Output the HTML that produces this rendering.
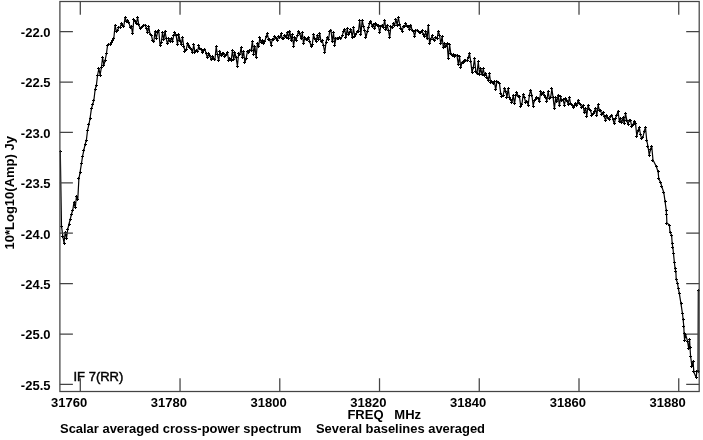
<!DOCTYPE html>
<html><head><meta charset="utf-8"><title>plot</title>
<style>
html,body{margin:0;padding:0;background:#fff}
svg{display:block}
text{font-family:"Liberation Sans",sans-serif;font-weight:bold;font-size:13px;fill:#000}
</style></head><body>
<svg width="703" height="440" viewBox="0 0 703 440">
<rect width="703" height="440" fill="#fff"/>
<path d="M60.3,151.0 L61.5,226.0 L62.8,236.0 L64.0,243.0 L65.3,232.0 L66.5,238.0 L67.8,229.0 L69.0,224.0 L70.3,219.0 L71.5,214.0 L72.8,210.0 L74.0,202.0 L75.3,207.5 L76.5,196.0 L77.8,199.0 L78.9,178.8 L80.1,172.0 L81.4,163.8 L82.6,156.1 L83.9,150.0 L85.1,144.4 L86.4,140.0 L87.6,130.0 L88.9,124.7 L90.1,118.0 L91.4,108.8 L92.6,104.9 L93.9,100.0 L95.1,89.7 L96.4,85.0 L97.6,75.0 L98.9,68.5 L100.1,75.0 L101.4,67.5 L102.6,57.5 L103.9,65.0 L105.1,60.5 L106.4,53.8 L107.6,45.0 L108.9,44.3 L110.1,44.4 L111.3,42.5 L112.6,40.0 L113.8,38.8 L115.1,25.0 L116.3,31.0 L117.6,30.2 L118.8,27.4 L120.1,27.5 L121.3,23.8 L122.6,25.1 L123.8,26.4 L125.1,17.3 L126.3,21.2 L127.6,20.7 L128.8,22.2 L130.1,27.1 L131.3,26.0 L132.6,33.8 L133.8,20.0 L135.1,21.0 L136.3,23.7 L137.6,17.5 L138.8,24.9 L140.1,28.1 L141.3,27.5 L142.5,26.4 L143.8,25.3 L145.0,25.0 L146.3,28.1 L147.5,32.4 L148.8,26.8 L150.0,34.2 L151.3,35.0 L152.5,40.0 L153.8,41.9 L155.0,31.6 L156.3,38.3 L157.5,32.5 L158.8,30.9 L160.0,45.0 L161.3,42.6 L162.5,32.4 L163.8,39.8 L165.0,31.0 L166.3,38.8 L167.5,43.8 L168.8,39.0 L170.0,41.6 L171.3,38.5 L172.5,41.0 L173.7,35.7 L175.0,32.5 L176.2,35.9 L177.5,44.7 L178.7,34.5 L180.0,40.0 L181.2,44.7 L182.5,37.6 L183.7,46.0 L185.0,51.0 L186.2,49.7 L187.5,43.7 L188.7,45.0 L190.0,47.4 L191.2,49.3 L192.5,52.6 L193.7,44.7 L195.0,52.5 L196.2,50.7 L197.5,51.7 L198.7,46.0 L200.0,48.8 L201.2,49.7 L202.5,52.6 L203.7,50.5 L204.9,49.2 L206.2,53.8 L207.4,57.6 L208.7,53.3 L209.9,55.4 L211.2,60.0 L212.4,57.0 L213.7,58.8 L214.9,60.0 L216.2,46.6 L217.4,54.6 L218.7,60.7 L219.9,51.0 L221.2,55.8 L222.4,54.0 L223.7,53.2 L224.9,56.7 L226.2,54.4 L227.4,52.5 L228.7,60.5 L229.9,58.8 L231.2,60.0 L232.4,50.9 L233.7,59.9 L234.9,52.5 L236.1,57.9 L237.4,66.0 L238.6,54.0 L239.9,54.6 L241.1,47.5 L242.4,57.2 L243.6,51.6 L244.9,62.5 L246.1,58.3 L247.4,51.9 L248.6,52.5 L249.9,50.1 L251.1,50.8 L252.4,41.0 L253.6,54.0 L254.9,46.6 L256.1,57.5 L257.4,43.2 L258.6,46.6 L259.9,37.5 L261.1,42.3 L262.4,40.2 L263.6,43.8 L264.9,41.3 L266.1,36.5 L267.3,33.8 L268.6,39.3 L269.8,39.6 L271.1,45.0 L272.3,39.7 L273.6,39.7 L274.8,36.2 L276.1,38.8 L277.3,40.3 L278.6,36.6 L279.8,37.9 L281.1,33.8 L282.3,38.9 L283.6,38.2 L284.8,35.1 L286.1,37.5 L287.3,32.6 L288.6,38.2 L289.8,31.2 L291.1,40.0 L292.3,34.7 L293.6,46.0 L294.8,37.3 L296.1,40.2 L297.3,35.8 L298.5,31.0 L299.8,33.1 L301.0,38.8 L302.3,32.9 L303.5,43.5 L304.8,37.5 L306.0,39.8 L307.3,39.3 L308.5,37.5 L309.8,41.6 L311.0,46.0 L312.3,44.3 L313.5,34.8 L314.8,38.8 L316.0,41.1 L317.3,35.9 L318.5,39.7 L319.8,33.8 L321.0,41.7 L322.3,40.7 L323.5,46.0 L324.8,52.5 L326.0,42.2 L327.3,37.5 L328.5,39.5 L329.7,31.3 L331.0,30.0 L332.2,41.6 L333.5,32.9 L334.7,45.0 L336.0,38.1 L337.2,38.6 L338.5,38.8 L339.7,37.5 L341.0,38.8 L342.2,35.9 L343.5,31.1 L344.7,29.2 L346.0,37.3 L347.2,28.8 L348.5,34.4 L349.7,32.1 L351.0,29.7 L352.2,37.5 L353.5,28.0 L354.7,36.0 L356.0,34.5 L357.2,31.5 L358.5,31.0 L359.7,20.9 L360.9,34.8 L362.2,20.0 L363.4,26.2 L364.7,30.6 L365.9,37.5 L367.2,32.0 L368.4,27.3 L369.7,23.5 L370.9,21.0 L372.2,26.6 L373.4,24.2 L374.7,28.9 L375.9,23.5 L377.2,25.0 L378.4,25.8 L379.7,32.5 L380.9,26.0 L382.2,25.1 L383.4,27.1 L384.7,20.0 L385.9,30.0 L387.2,25.2 L388.4,30.3 L389.7,37.5 L390.9,26.4 L392.1,27.9 L393.4,23.8 L394.6,25.5 L395.9,19.0 L397.1,25.0 L398.4,17.5 L399.6,24.0 L400.9,28.2 L402.1,31.0 L403.4,26.5 L404.6,26.7 L405.9,23.8 L407.1,26.6 L408.4,27.0 L409.6,29.3 L410.9,25.0 L412.1,30.6 L413.4,31.3 L414.6,36.0 L415.9,30.5 L417.1,30.1 L418.4,31.6 L419.6,32.5 L420.9,32.2 L422.1,30.6 L423.3,34.7 L424.6,36.0 L425.8,31.5 L427.1,38.9 L428.3,25.0 L429.6,43.8 L430.8,39.2 L432.1,35.8 L433.3,39.4 L434.6,40.0 L435.8,37.5 L437.1,38.7 L438.3,31.0 L439.6,35.5 L440.8,43.8 L442.1,36.7 L443.3,47.3 L444.6,43.9 L445.8,46.0 L447.1,43.7 L448.3,58.5 L449.6,44.5 L450.8,53.8 L452.1,55.5 L453.3,54.2 L454.5,56.1 L455.8,55.0 L457.0,55.5 L458.3,64.6 L459.5,56.5 L460.8,67.5 L462.0,62.1 L463.3,62.6 L464.5,60.0 L465.8,60.5 L467.0,60.8 L468.3,57.2 L469.5,53.8 L470.8,61.6 L472.0,72.5 L473.3,67.3 L474.5,58.8 L475.8,71.1 L477.0,73.8 L478.3,61.7 L479.5,74.3 L480.8,68.3 L482.0,75.0 L483.3,68.8 L484.5,75.2 L485.7,73.3 L487.0,77.0 L488.2,80.0 L489.5,74.0 L490.7,83.0 L492.0,81.9 L493.2,83.8 L494.5,81.9 L495.7,89.8 L497.0,81.1 L498.2,82.5 L499.5,83.9 L500.7,93.2 L502.0,96.0 L503.2,95.4 L504.5,88.3 L505.7,91.0 L507.0,97.1 L508.2,88.4 L509.5,98.0 L510.7,99.4 L512.0,102.5 L513.2,95.2 L514.5,103.6 L515.7,95.8 L516.9,92.5 L518.2,96.7 L519.4,96.1 L520.7,106.0 L521.9,104.3 L523.2,94.3 L524.4,97.5 L525.7,102.7 L526.9,101.2 L528.2,105.0 L529.4,95.0 L530.7,90.0 L531.9,95.3 L533.2,106.0 L534.4,100.2 L535.7,99.4 L536.9,97.8 L538.2,98.8 L539.4,101.6 L540.7,91.5 L541.9,94.5 L543.2,92.5 L544.4,96.0 L545.7,97.2 L546.9,101.0 L548.1,91.2 L549.4,98.7 L550.6,97.8 L551.9,88.8 L553.1,97.7 L554.4,108.8 L555.6,97.9 L556.9,101.8 L558.1,95.0 L559.4,105.9 L560.6,96.9 L561.9,100.7 L563.1,99.8 L564.4,105.0 L565.6,98.7 L566.9,100.1 L568.1,104.0 L569.4,97.5 L570.6,103.8 L571.9,104.3 L573.1,107.5 L574.4,105.0 L575.6,103.6 L576.9,105.5 L578.1,100.0 L579.3,104.0 L580.6,104.6 L581.8,107.5 L583.1,105.1 L584.3,112.6 L585.6,108.1 L586.8,116.0 L588.1,105.0 L589.3,109.7 L590.6,110.3 L591.8,115.3 L593.1,113.8 L594.3,111.4 L595.6,108.3 L596.8,115.9 L598.1,105.0 L599.3,110.0 L600.6,110.1 L601.8,115.0 L603.1,112.0 L604.3,116.7 L605.6,120.0 L606.8,115.3 L608.1,118.8 L609.3,119.4 L610.5,116.3 L611.8,115.0 L613.0,119.6 L614.3,123.8 L615.5,118.1 L616.8,115.1 L618.0,111.0 L619.3,121.0 L620.5,118.9 L621.8,122.5 L623.0,117.8 L624.3,123.9 L625.5,113.3 L626.8,120.0 L628.0,124.5 L629.3,120.2 L630.5,120.4 L631.8,126.8 L633.0,124.8 L634.3,121.0 L635.5,123.2 L636.8,136.0 L638.0,130.5 L639.3,127.5 L640.5,134.7 L641.7,138.8 L643.0,137.2 L644.2,131.3 L645.5,127.5 L646.7,140.0 L648.0,146.6 L649.2,155.0 L650.5,149.6 L651.7,146.0 L653.0,160.0 L656.2,166.2 L658.1,171.9 L658.8,178.8 L660.6,182.5 L661.9,186.9 L663.8,192.5 L665.0,201.2 L666.2,210.0 L666.5,214.4 L666.9,223.1 L669.4,225.0 L670.0,232.5 L671.6,235.0 L672.2,243.8 L672.9,247.5 L673.5,253.8 L674.4,262.5 L675.0,268.0 L675.9,271.9 L676.2,279.4 L677.5,283.0 L678.4,288.8 L679.4,293.8 L681.0,303.8 L682.5,313.8 L683.1,319.4 L683.8,326.2 L684.1,333.8 L684.6,340.0 L685.6,334.4 L687.5,341.2 L688.8,348.8 L689.6,339.4 L690.0,347.5 L690.6,356.2 L691.9,366.2 L693.1,361.2 L693.8,371.9 L696.2,377.5 L696.9,371.2 L698.0,371.2 L698.3,290.0" fill="none" stroke="#000" stroke-width="1.2" stroke-linejoin="round"/>
<path d="M59.0,151.5h3M60.5,150.0v3M60.0,226.5h3M61.5,225.0v3M61.0,236.5h3M62.5,235.0v3M63.0,243.5h3M64.5,242.0v3M64.0,232.5h3M65.5,231.0v3M65.0,238.5h3M66.5,237.0v3M66.0,229.5h3M67.5,228.0v3M68.0,224.5h3M69.5,223.0v3M69.0,219.5h3M70.5,218.0v3M70.0,214.5h3M71.5,213.0v3M71.0,210.5h3M72.5,209.0v3M73.0,202.5h3M74.5,201.0v3M74.0,207.5h3M75.5,206.0v3M75.0,196.5h3M76.5,195.0v3M76.0,199.5h3M77.5,198.0v3M77.0,178.5h3M78.5,177.0v3M79.0,172.5h3M80.5,171.0v3M80.0,163.5h3M81.5,162.0v3M81.0,156.5h3M82.5,155.0v3M82.0,150.5h3M83.5,149.0v3M84.0,144.5h3M85.5,143.0v3M85.0,140.5h3M86.5,139.0v3M86.0,130.5h3M87.5,129.0v3M87.0,124.5h3M88.5,123.0v3M89.0,118.5h3M90.5,117.0v3M90.0,108.5h3M91.5,107.0v3M91.0,104.5h3M92.5,103.0v3M92.0,100.5h3M93.5,99.0v3M94.0,89.5h3M95.5,88.0v3M95.0,85.5h3M96.5,84.0v3M96.0,75.5h3M97.5,74.0v3M97.0,68.5h3M98.5,67.0v3M99.0,75.5h3M100.5,74.0v3M100.0,67.5h3M101.5,66.0v3M101.0,57.5h3M102.5,56.0v3M102.0,65.5h3M103.5,64.0v3M104.0,60.5h3M105.5,59.0v3M105.0,53.5h3M106.5,52.0v3M106.0,45.5h3M107.5,44.0v3M107.0,44.5h3M108.5,43.0v3M109.0,44.5h3M110.5,43.0v3M110.0,42.5h3M111.5,41.0v3M111.0,40.5h3M112.5,39.0v3M112.0,38.5h3M113.5,37.0v3M114.0,25.5h3M115.5,24.0v3M115.0,31.5h3M116.5,30.0v3M116.0,30.5h3M117.5,29.0v3M117.0,27.5h3M118.5,26.0v3M119.0,27.5h3M120.5,26.0v3M120.0,23.5h3M121.5,22.0v3M121.0,25.5h3M122.5,24.0v3M122.0,26.5h3M123.5,25.0v3M124.0,17.5h3M125.5,16.0v3M125.0,21.5h3M126.5,20.0v3M126.0,20.5h3M127.5,19.0v3M127.0,22.5h3M128.5,21.0v3M129.0,27.5h3M130.5,26.0v3M130.0,26.5h3M131.5,25.0v3M131.0,33.5h3M132.5,32.0v3M132.0,19.5h3M133.5,18.0v3M134.0,21.5h3M135.5,20.0v3M135.0,23.5h3M136.5,22.0v3M136.0,17.5h3M137.5,16.0v3M137.0,24.5h3M138.5,23.0v3M139.0,28.5h3M140.5,27.0v3M140.0,27.5h3M141.5,26.0v3M141.0,26.5h3M142.5,25.0v3M142.0,25.5h3M143.5,24.0v3M144.0,25.5h3M145.5,24.0v3M145.0,28.5h3M146.5,27.0v3M146.0,32.5h3M147.5,31.0v3M147.0,26.5h3M148.5,25.0v3M149.0,34.5h3M150.5,33.0v3M150.0,35.5h3M151.5,34.0v3M151.0,40.5h3M152.5,39.0v3M152.0,41.5h3M153.5,40.0v3M154.0,31.5h3M155.5,30.0v3M155.0,38.5h3M156.5,37.0v3M156.0,32.5h3M157.5,31.0v3M157.0,30.5h3M158.5,29.0v3M159.0,45.5h3M160.5,44.0v3M160.0,42.5h3M161.5,41.0v3M161.0,32.5h3M162.5,31.0v3M162.0,39.5h3M163.5,38.0v3M164.0,31.5h3M165.5,30.0v3M165.0,38.5h3M166.5,37.0v3M166.0,43.5h3M167.5,42.0v3M167.0,38.5h3M168.5,37.0v3M169.0,41.5h3M170.5,40.0v3M170.0,38.5h3M171.5,37.0v3M171.0,41.5h3M172.5,40.0v3M172.0,35.5h3M173.5,34.0v3M173.0,32.5h3M174.5,31.0v3M175.0,35.5h3M176.5,34.0v3M176.0,44.5h3M177.5,43.0v3M177.0,34.5h3M178.5,33.0v3M178.0,40.5h3M179.5,39.0v3M180.0,44.5h3M181.5,43.0v3M181.0,37.5h3M182.5,36.0v3M182.0,46.5h3M183.5,45.0v3M183.0,51.5h3M184.5,50.0v3M185.0,49.5h3M186.5,48.0v3M186.0,43.5h3M187.5,42.0v3M187.0,45.5h3M188.5,44.0v3M188.0,47.5h3M189.5,46.0v3M190.0,49.5h3M191.5,48.0v3M191.0,52.5h3M192.5,51.0v3M192.0,44.5h3M193.5,43.0v3M193.0,52.5h3M194.5,51.0v3M195.0,50.5h3M196.5,49.0v3M196.0,51.5h3M197.5,50.0v3M197.0,45.5h3M198.5,44.0v3M198.0,48.5h3M199.5,47.0v3M200.0,49.5h3M201.5,48.0v3M201.0,52.5h3M202.5,51.0v3M202.0,50.5h3M203.5,49.0v3M203.0,49.5h3M204.5,48.0v3M205.0,53.5h3M206.5,52.0v3M206.0,57.5h3M207.5,56.0v3M207.0,53.5h3M208.5,52.0v3M208.0,55.5h3M209.5,54.0v3M210.0,59.5h3M211.5,58.0v3M211.0,56.5h3M212.5,55.0v3M212.0,58.5h3M213.5,57.0v3M213.0,59.5h3M214.5,58.0v3M215.0,46.5h3M216.5,45.0v3M216.0,54.5h3M217.5,53.0v3M217.0,60.5h3M218.5,59.0v3M218.0,51.5h3M219.5,50.0v3M220.0,55.5h3M221.5,54.0v3M221.0,53.5h3M222.5,52.0v3M222.0,53.5h3M223.5,52.0v3M223.0,56.5h3M224.5,55.0v3M225.0,54.5h3M226.5,53.0v3M226.0,52.5h3M227.5,51.0v3M227.0,60.5h3M228.5,59.0v3M228.0,58.5h3M229.5,57.0v3M230.0,60.5h3M231.5,59.0v3M231.0,50.5h3M232.5,49.0v3M232.0,59.5h3M233.5,58.0v3M233.0,52.5h3M234.5,51.0v3M235.0,57.5h3M236.5,56.0v3M236.0,66.5h3M237.5,65.0v3M237.0,53.5h3M238.5,52.0v3M238.0,54.5h3M239.5,53.0v3M240.0,47.5h3M241.5,46.0v3M241.0,57.5h3M242.5,56.0v3M242.0,51.5h3M243.5,50.0v3M243.0,62.5h3M244.5,61.0v3M245.0,58.5h3M246.5,57.0v3M246.0,51.5h3M247.5,50.0v3M247.0,52.5h3M248.5,51.0v3M248.0,50.5h3M249.5,49.0v3M250.0,50.5h3M251.5,49.0v3M251.0,41.5h3M252.5,40.0v3M252.0,54.5h3M253.5,53.0v3M253.0,46.5h3M254.5,45.0v3M255.0,57.5h3M256.5,56.0v3M256.0,43.5h3M257.5,42.0v3M257.0,46.5h3M258.5,45.0v3M258.0,37.5h3M259.5,36.0v3M260.0,42.5h3M261.5,41.0v3M261.0,40.5h3M262.5,39.0v3M262.0,43.5h3M263.5,42.0v3M263.0,41.5h3M264.5,40.0v3M265.0,36.5h3M266.5,35.0v3M266.0,33.5h3M267.5,32.0v3M267.0,39.5h3M268.5,38.0v3M268.0,39.5h3M269.5,38.0v3M270.0,45.5h3M271.5,44.0v3M271.0,39.5h3M272.5,38.0v3M272.0,39.5h3M273.5,38.0v3M273.0,36.5h3M274.5,35.0v3M275.0,38.5h3M276.5,37.0v3M276.0,40.5h3M277.5,39.0v3M277.0,36.5h3M278.5,35.0v3M278.0,37.5h3M279.5,36.0v3M280.0,33.5h3M281.5,32.0v3M281.0,38.5h3M282.5,37.0v3M282.0,38.5h3M283.5,37.0v3M283.0,35.5h3M284.5,34.0v3M285.0,37.5h3M286.5,36.0v3M286.0,32.5h3M287.5,31.0v3M287.0,38.5h3M288.5,37.0v3M288.0,31.5h3M289.5,30.0v3M290.0,40.5h3M291.5,39.0v3M291.0,34.5h3M292.5,33.0v3M292.0,46.5h3M293.5,45.0v3M293.0,37.5h3M294.5,36.0v3M295.0,40.5h3M296.5,39.0v3M296.0,35.5h3M297.5,34.0v3M297.0,31.5h3M298.5,30.0v3M298.0,33.5h3M299.5,32.0v3M300.0,38.5h3M301.5,37.0v3M301.0,32.5h3M302.5,31.0v3M302.0,43.5h3M303.5,42.0v3M303.0,37.5h3M304.5,36.0v3M305.0,39.5h3M306.5,38.0v3M306.0,39.5h3M307.5,38.0v3M307.0,37.5h3M308.5,36.0v3M308.0,41.5h3M309.5,40.0v3M310.0,46.5h3M311.5,45.0v3M311.0,44.5h3M312.5,43.0v3M312.0,34.5h3M313.5,33.0v3M313.0,38.5h3M314.5,37.0v3M315.0,41.5h3M316.5,40.0v3M316.0,35.5h3M317.5,34.0v3M317.0,39.5h3M318.5,38.0v3M318.0,33.5h3M319.5,32.0v3M320.0,41.5h3M321.5,40.0v3M321.0,40.5h3M322.5,39.0v3M322.0,45.5h3M323.5,44.0v3M323.0,52.5h3M324.5,51.0v3M325.0,42.5h3M326.5,41.0v3M326.0,37.5h3M327.5,36.0v3M327.0,39.5h3M328.5,38.0v3M328.0,31.5h3M329.5,30.0v3M329.0,30.5h3M330.5,29.0v3M331.0,41.5h3M332.5,40.0v3M332.0,32.5h3M333.5,31.0v3M333.0,45.5h3M334.5,44.0v3M334.0,38.5h3M335.5,37.0v3M336.0,38.5h3M337.5,37.0v3M337.0,38.5h3M338.5,37.0v3M338.0,37.5h3M339.5,36.0v3M339.0,38.5h3M340.5,37.0v3M341.0,35.5h3M342.5,34.0v3M342.0,31.5h3M343.5,30.0v3M343.0,29.5h3M344.5,28.0v3M344.0,37.5h3M345.5,36.0v3M346.0,28.5h3M347.5,27.0v3M347.0,34.5h3M348.5,33.0v3M348.0,32.5h3M349.5,31.0v3M349.0,29.5h3M350.5,28.0v3M351.0,37.5h3M352.5,36.0v3M352.0,27.5h3M353.5,26.0v3M353.0,36.5h3M354.5,35.0v3M354.0,34.5h3M355.5,33.0v3M356.0,31.5h3M357.5,30.0v3M357.0,31.5h3M358.5,30.0v3M358.0,20.5h3M359.5,19.0v3M359.0,34.5h3M360.5,33.0v3M361.0,20.5h3M362.5,19.0v3M362.0,26.5h3M363.5,25.0v3M363.0,30.5h3M364.5,29.0v3M364.0,37.5h3M365.5,36.0v3M366.0,31.5h3M367.5,30.0v3M367.0,27.5h3M368.5,26.0v3M368.0,23.5h3M369.5,22.0v3M369.0,21.5h3M370.5,20.0v3M371.0,26.5h3M372.5,25.0v3M372.0,24.5h3M373.5,23.0v3M373.0,28.5h3M374.5,27.0v3M374.0,23.5h3M375.5,22.0v3M376.0,25.5h3M377.5,24.0v3M377.0,25.5h3M378.5,24.0v3M378.0,32.5h3M379.5,31.0v3M379.0,26.5h3M380.5,25.0v3M381.0,25.5h3M382.5,24.0v3M382.0,27.5h3M383.5,26.0v3M383.0,20.5h3M384.5,19.0v3M384.0,29.5h3M385.5,28.0v3M386.0,25.5h3M387.5,24.0v3M387.0,30.5h3M388.5,29.0v3M388.0,37.5h3M389.5,36.0v3M389.0,26.5h3M390.5,25.0v3M391.0,27.5h3M392.5,26.0v3M392.0,23.5h3M393.5,22.0v3M393.0,25.5h3M394.5,24.0v3M394.0,19.5h3M395.5,18.0v3M396.0,25.5h3M397.5,24.0v3M397.0,17.5h3M398.5,16.0v3M398.0,24.5h3M399.5,23.0v3M399.0,28.5h3M400.5,27.0v3M401.0,31.5h3M402.5,30.0v3M402.0,26.5h3M403.5,25.0v3M403.0,26.5h3M404.5,25.0v3M404.0,23.5h3M405.5,22.0v3M406.0,26.5h3M407.5,25.0v3M407.0,26.5h3M408.5,25.0v3M408.0,29.5h3M409.5,28.0v3M409.0,25.5h3M410.5,24.0v3M411.0,30.5h3M412.5,29.0v3M412.0,31.5h3M413.5,30.0v3M413.0,36.5h3M414.5,35.0v3M414.0,30.5h3M415.5,29.0v3M416.0,30.5h3M417.5,29.0v3M417.0,31.5h3M418.5,30.0v3M418.0,32.5h3M419.5,31.0v3M419.0,32.5h3M420.5,31.0v3M421.0,30.5h3M422.5,29.0v3M422.0,34.5h3M423.5,33.0v3M423.0,36.5h3M424.5,35.0v3M424.0,31.5h3M425.5,30.0v3M426.0,38.5h3M427.5,37.0v3M427.0,25.5h3M428.5,24.0v3M428.0,43.5h3M429.5,42.0v3M429.0,39.5h3M430.5,38.0v3M431.0,35.5h3M432.5,34.0v3M432.0,39.5h3M433.5,38.0v3M433.0,40.5h3M434.5,39.0v3M434.0,37.5h3M435.5,36.0v3M436.0,38.5h3M437.5,37.0v3M437.0,31.5h3M438.5,30.0v3M438.0,35.5h3M439.5,34.0v3M439.0,43.5h3M440.5,42.0v3M441.0,36.5h3M442.5,35.0v3M442.0,47.5h3M443.5,46.0v3M443.0,43.5h3M444.5,42.0v3M444.0,46.5h3M445.5,45.0v3M446.0,43.5h3M447.5,42.0v3M447.0,58.5h3M448.5,57.0v3M448.0,44.5h3M449.5,43.0v3M449.0,53.5h3M450.5,52.0v3M451.0,55.5h3M452.5,54.0v3M452.0,54.5h3M453.5,53.0v3M453.0,56.5h3M454.5,55.0v3M454.0,55.5h3M455.5,54.0v3M456.0,55.5h3M457.5,54.0v3M457.0,64.5h3M458.5,63.0v3M458.0,56.5h3M459.5,55.0v3M459.0,67.5h3M460.5,66.0v3M461.0,62.5h3M462.5,61.0v3M462.0,62.5h3M463.5,61.0v3M463.0,60.5h3M464.5,59.0v3M464.0,60.5h3M465.5,59.0v3M466.0,60.5h3M467.5,59.0v3M467.0,57.5h3M468.5,56.0v3M468.0,53.5h3M469.5,52.0v3M469.0,61.5h3M470.5,60.0v3M471.0,72.5h3M472.5,71.0v3M472.0,67.5h3M473.5,66.0v3M473.0,58.5h3M474.5,57.0v3M474.0,71.5h3M475.5,70.0v3M476.0,73.5h3M477.5,72.0v3M477.0,61.5h3M478.5,60.0v3M478.0,74.5h3M479.5,73.0v3M479.0,68.5h3M480.5,67.0v3M481.0,74.5h3M482.5,73.0v3M482.0,68.5h3M483.5,67.0v3M483.0,75.5h3M484.5,74.0v3M484.0,73.5h3M485.5,72.0v3M485.0,77.5h3M486.5,76.0v3M487.0,80.5h3M488.5,79.0v3M488.0,73.5h3M489.5,72.0v3M489.0,82.5h3M490.5,81.0v3M490.0,81.5h3M491.5,80.0v3M492.0,83.5h3M493.5,82.0v3M493.0,81.5h3M494.5,80.0v3M494.0,89.5h3M495.5,88.0v3M495.0,81.5h3M496.5,80.0v3M497.0,82.5h3M498.5,81.0v3M498.0,83.5h3M499.5,82.0v3M499.0,93.5h3M500.5,92.0v3M500.0,96.5h3M501.5,95.0v3M502.0,95.5h3M503.5,94.0v3M503.0,88.5h3M504.5,87.0v3M504.0,91.5h3M505.5,90.0v3M505.0,97.5h3M506.5,96.0v3M507.0,88.5h3M508.5,87.0v3M508.0,97.5h3M509.5,96.0v3M509.0,99.5h3M510.5,98.0v3M510.0,102.5h3M511.5,101.0v3M512.0,95.5h3M513.5,94.0v3M513.0,103.5h3M514.5,102.0v3M514.0,95.5h3M515.5,94.0v3M515.0,92.5h3M516.5,91.0v3M517.0,96.5h3M518.5,95.0v3M518.0,96.5h3M519.5,95.0v3M519.0,106.5h3M520.5,105.0v3M520.0,104.5h3M521.5,103.0v3M522.0,94.5h3M523.5,93.0v3M523.0,97.5h3M524.5,96.0v3M524.0,102.5h3M525.5,101.0v3M525.0,101.5h3M526.5,100.0v3M527.0,105.5h3M528.5,104.0v3M528.0,95.5h3M529.5,94.0v3M529.0,90.5h3M530.5,89.0v3M530.0,95.5h3M531.5,94.0v3M532.0,106.5h3M533.5,105.0v3M533.0,100.5h3M534.5,99.0v3M534.0,99.5h3M535.5,98.0v3M535.0,97.5h3M536.5,96.0v3M537.0,98.5h3M538.5,97.0v3M538.0,101.5h3M539.5,100.0v3M539.0,91.5h3M540.5,90.0v3M540.0,94.5h3M541.5,93.0v3M542.0,92.5h3M543.5,91.0v3M543.0,95.5h3M544.5,94.0v3M544.0,97.5h3M545.5,96.0v3M545.0,101.5h3M546.5,100.0v3M547.0,91.5h3M548.5,90.0v3M548.0,98.5h3M549.5,97.0v3M549.0,97.5h3M550.5,96.0v3M550.0,88.5h3M551.5,87.0v3M552.0,97.5h3M553.5,96.0v3M553.0,108.5h3M554.5,107.0v3M554.0,97.5h3M555.5,96.0v3M555.0,101.5h3M556.5,100.0v3M557.0,95.5h3M558.5,94.0v3M558.0,105.5h3M559.5,104.0v3M559.0,96.5h3M560.5,95.0v3M560.0,100.5h3M561.5,99.0v3M562.0,99.5h3M563.5,98.0v3M563.0,105.5h3M564.5,104.0v3M564.0,98.5h3M565.5,97.0v3M565.0,100.5h3M566.5,99.0v3M567.0,104.5h3M568.5,103.0v3M568.0,97.5h3M569.5,96.0v3M569.0,103.5h3M570.5,102.0v3M570.0,104.5h3M571.5,103.0v3M572.0,107.5h3M573.5,106.0v3M573.0,105.5h3M574.5,104.0v3M574.0,103.5h3M575.5,102.0v3M575.0,105.5h3M576.5,104.0v3M577.0,100.5h3M578.5,99.0v3M578.0,103.5h3M579.5,102.0v3M579.0,104.5h3M580.5,103.0v3M580.0,107.5h3M581.5,106.0v3M582.0,105.5h3M583.5,104.0v3M583.0,112.5h3M584.5,111.0v3M584.0,108.5h3M585.5,107.0v3M585.0,116.5h3M586.5,115.0v3M587.0,105.5h3M588.5,104.0v3M588.0,109.5h3M589.5,108.0v3M589.0,110.5h3M590.5,109.0v3M590.0,115.5h3M591.5,114.0v3M592.0,113.5h3M593.5,112.0v3M593.0,111.5h3M594.5,110.0v3M594.0,108.5h3M595.5,107.0v3M595.0,115.5h3M596.5,114.0v3M597.0,104.5h3M598.5,103.0v3M598.0,110.5h3M599.5,109.0v3M599.0,110.5h3M600.5,109.0v3M600.0,114.5h3M601.5,113.0v3M602.0,112.5h3M603.5,111.0v3M603.0,116.5h3M604.5,115.0v3M604.0,120.5h3M605.5,119.0v3M605.0,115.5h3M606.5,114.0v3M607.0,118.5h3M608.5,117.0v3M608.0,119.5h3M609.5,118.0v3M609.0,116.5h3M610.5,115.0v3M610.0,115.5h3M611.5,114.0v3M612.0,119.5h3M613.5,118.0v3M613.0,123.5h3M614.5,122.0v3M614.0,118.5h3M615.5,117.0v3M615.0,115.5h3M616.5,114.0v3M617.0,111.5h3M618.5,110.0v3M618.0,121.5h3M619.5,120.0v3M619.0,118.5h3M620.5,117.0v3M620.0,122.5h3M621.5,121.0v3M622.0,117.5h3M623.5,116.0v3M623.0,123.5h3M624.5,122.0v3M624.0,113.5h3M625.5,112.0v3M625.0,120.5h3M626.5,119.0v3M627.0,124.5h3M628.5,123.0v3M628.0,120.5h3M629.5,119.0v3M629.0,120.5h3M630.5,119.0v3M630.0,126.5h3M631.5,125.0v3M632.0,124.5h3M633.5,123.0v3M633.0,121.5h3M634.5,120.0v3M634.0,123.5h3M635.5,122.0v3M635.0,136.5h3M636.5,135.0v3M637.0,130.5h3M638.5,129.0v3M638.0,127.5h3M639.5,126.0v3M639.0,134.5h3M640.5,133.0v3M640.0,138.5h3M641.5,137.0v3M641.0,137.5h3M642.5,136.0v3M643.0,131.5h3M644.5,130.0v3M644.0,127.5h3M645.5,126.0v3M645.0,140.5h3M646.5,139.0v3M646.0,146.5h3M647.5,145.0v3M648.0,155.5h3M649.5,154.0v3M649.0,149.5h3M650.5,148.0v3M650.0,146.5h3M651.5,145.0v3M651.0,160.5h3M652.5,159.0v3M655.0,166.5h3M656.5,165.0v3M657.0,171.5h3M658.5,170.0v3M657.0,178.5h3M658.5,177.0v3M659.0,182.5h3M660.5,181.0v3M660.0,186.5h3M661.5,185.0v3M662.0,192.5h3M663.5,191.0v3M664.0,201.5h3M665.5,200.0v3M665.0,210.5h3M666.5,209.0v3M665.0,214.5h3M666.5,213.0v3M665.0,223.5h3M666.5,222.0v3M668.0,225.5h3M669.5,224.0v3M669.0,232.5h3M670.5,231.0v3M670.0,235.5h3M671.5,234.0v3M671.0,243.5h3M672.5,242.0v3M671.0,247.5h3M672.5,246.0v3M672.0,253.5h3M673.5,252.0v3M673.0,262.5h3M674.5,261.0v3M674.0,268.5h3M675.5,267.0v3M674.0,271.5h3M675.5,270.0v3M675.0,279.5h3M676.5,278.0v3M676.0,283.5h3M677.5,282.0v3M677.0,288.5h3M678.5,287.0v3M678.0,293.5h3M679.5,292.0v3M680.0,303.5h3M681.5,302.0v3M681.0,313.5h3M682.5,312.0v3M682.0,319.5h3M683.5,318.0v3M682.0,326.5h3M683.5,325.0v3M683.0,333.5h3M684.5,332.0v3M683.0,340.5h3M684.5,339.0v3M684.0,334.5h3M685.5,333.0v3M686.0,341.5h3M687.5,340.0v3M687.0,348.5h3M688.5,347.0v3M688.0,339.5h3M689.5,338.0v3M689.0,347.5h3M690.5,346.0v3M689.0,356.5h3M690.5,355.0v3M690.0,366.5h3M691.5,365.0v3M692.0,361.5h3M693.5,360.0v3M692.0,371.5h3M693.5,370.0v3M695.0,377.5h3M696.5,376.0v3M695.0,371.5h3M696.5,370.0v3M697.0,371.5h3M698.5,370.0v3M697.0,290.5h3M698.5,289.0v3" fill="none" stroke="#000" stroke-width="1"/>
<rect x="59.9" y="1.5" width="639.3000000000001" height="390.0" fill="none" stroke="#444" stroke-width="1.25"/>
<path d="M59.9,31.6h13M699.2,31.6h-13M59.9,82.0h13M699.2,82.0h-13M59.9,132.4h13M699.2,132.4h-13M59.9,182.8h13M699.2,182.8h-13M59.9,233.2h13M699.2,233.2h-13M59.9,283.6h13M699.2,283.6h-13M59.9,334.0h13M699.2,334.0h-13M59.9,384.4h13M699.2,384.4h-13M80.30,1.5v13.3M80.30,391.5v-13.3M180.04,1.5v13.3M180.04,391.5v-13.3M279.78,1.5v13.3M279.78,391.5v-13.3M379.52,1.5v13.3M379.52,391.5v-13.3M479.26,1.5v13.3M479.26,391.5v-13.3M579.00,1.5v13.3M579.00,391.5v-13.3M678.74,1.5v13.3M678.74,391.5v-13.3" fill="none" stroke="#444" stroke-width="1.25"/>
<text x="50.5" y="37.0" text-anchor="end">-22.0</text><text x="50.5" y="87.4" text-anchor="end">-22.5</text><text x="50.5" y="137.8" text-anchor="end">-23.0</text><text x="50.5" y="188.2" text-anchor="end">-23.5</text><text x="50.5" y="238.6" text-anchor="end">-24.0</text><text x="50.5" y="289.0" text-anchor="end">-24.5</text><text x="50.5" y="339.4" text-anchor="end">-25.0</text><text x="50.5" y="389.8" text-anchor="end">-25.5</text>
<text x="69.20" y="407" text-anchor="middle">31760</text><text x="168.95" y="407" text-anchor="middle">31780</text><text x="268.70" y="407" text-anchor="middle">31800</text><text x="368.45" y="407" text-anchor="middle">31820</text><text x="468.20" y="407" text-anchor="middle">31840</text><text x="567.95" y="407" text-anchor="middle">31860</text><text x="667.70" y="407" text-anchor="middle">31880</text>
<text x="73.5" y="380.5" style="font-weight:normal;stroke:#000;stroke-width:0.45px">IF 7(RR)</text>
<text x="347.4" y="419" xml:space="preserve">FREQ   MHz</text>
<text x="60" y="433" xml:space="preserve" style="font-size:12.94px">Scalar averaged cross-power spectrum    Several baselines averaged</text>
<text transform="translate(13.9,249.5) rotate(-90)">10*Log10(Amp) Jy</text>
</svg>
</body></html>
